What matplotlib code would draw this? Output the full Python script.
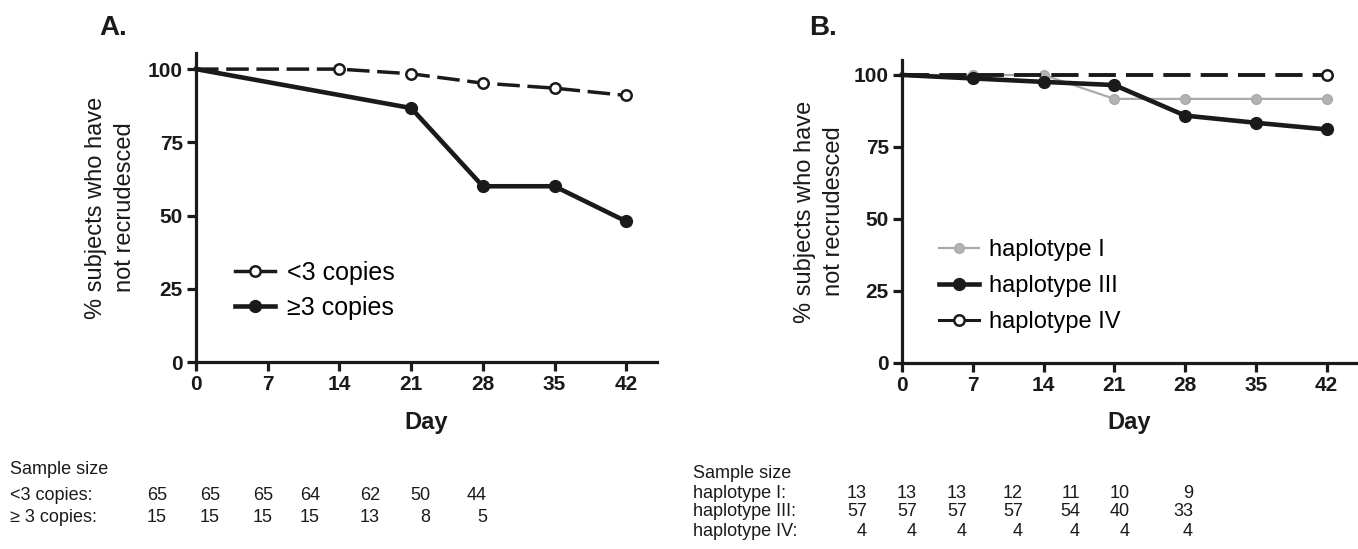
import matplotlib
matplotlib.use('Agg')
import matplotlib.pyplot as plt

# panel A: copy number
days = [0, 7, 14, 21, 28, 35, 42]
lt3_days = [0, 14, 21, 28, 35, 42]
lt3_vals = [100, 100, 98.4, 95.2, 93.5, 91.0]
ge3_days = [0, 21, 28, 35, 42]
ge3_vals = [100, 86.7, 60.0, 60.0, 48.0]
n_lt3 = [65, 65, 65, 64, 62, 50, 44]
n_ge3 = [15, 15, 15, 15, 13, 8, 5]

# panel B: haplotypes
hap1_days = [0, 7, 14, 21, 28, 35, 42]
hap1_vals = [100, 100, 100, 91.7, 91.7, 91.7, 91.7]
hap3_days = [0, 7, 14, 21, 28, 35, 42]
hap3_vals = [100, 98.8, 97.6, 96.5, 85.9, 83.4, 81.1]
hap4_days = [0, 42]
hap4_vals = [100, 100]
n_hap1 = [13, 13, 13, 12, 11, 10, 9]
n_hap3 = [57, 57, 57, 57, 54, 40, 33]
n_hap4 = [4, 4, 4, 4, 4, 4, 4]

plt.rcParams.update({
    'font.family': ['Liberation Sans', 'DejaVu Sans'],
    'font.size': 13,
    'axes.linewidth': 2.3,
    'xtick.major.width': 2.3,
    'ytick.major.width': 2.3,
    'xtick.major.size': 6.5,
    'ytick.major.size': 6.5,
})

W, H = 1358, 549
fig = plt.figure(figsize=(W / 100, H / 100), dpi=100)
TXT = '#1a1a1a'
fs = 13
skip0 = slice(1, None)


def px_axes(x0, x1, y_top, y_bot):
    return fig.add_axes([x0 / W, 1 - y_bot / H, (x1 - x0) / W, (y_bot - y_top) / H])


def style(ax, ytop, lx):
    ax.set_xlim(0, 45)
    ax.set_ylim(0, ytop)
    ax.spines['top'].set_visible(False)
    ax.spines['right'].set_visible(False)
    for s in ('left', 'bottom'):
        ax.spines[s].set_color(TXT)
    ax.set_xticks(days)
    ax.set_yticks([0, 25, 50, 75, 100])
    ax.tick_params(colors=TXT, labelsize=15, pad=3)
    for lab in ax.get_xticklabels() + ax.get_yticklabels():
        lab.set_fontweight('bold')
    ax.set_xlabel('Day', fontsize=17, fontweight='bold', color=TXT)
    ax.xaxis.set_label_coords(0.5, -0.16)
    ax.set_ylabel('% subjects who have\nnot recrudesced', fontsize=17, color=TXT,
                  linespacing=1.4)
    ax.yaxis.set_label_coords(lx, 0.5)


def solid_handles(leg):
    for ln in leg.get_lines():
        ln.set_linestyle('-')


def tab(x, y, s, ha='left'):
    fig.text(x / W, 1 - y / H, s, fontsize=fs, color=TXT, ha=ha, va='center')


# ---- panel A
axA = px_axes(196, 657, 53, 362)
axA.plot(lt3_days, lt3_vals, ls=(0, (6.5, 2.2)), lw=2.5, color=TXT, marker='o', ms=7.5,
         mfc='white', mec=TXT, mew=1.8, markevery=skip0, label='<3 copies',
         clip_on=False, zorder=3)
axA.plot(ge3_days, ge3_vals, lw=3.3, color=TXT, marker='o', ms=8.5,
         mfc=TXT, mec=TXT, markevery=skip0, label='\u22653 copies', clip_on=False, zorder=3)
style(axA, 105.5, -0.13)
legA = axA.legend(loc='upper left', bbox_to_anchor=(0.035, 0.40), frameon=False, fontsize=18,
                  handlelength=1.6, handletextpad=0.5, labelspacing=0.45)
solid_handles(legA)
fig.text(113 / W, 1 - 28 / H, 'A.', fontsize=20, fontweight='bold', color=TXT,
         ha='center', va='center')

# ---- panel B
axB = px_axes(902, 1357, 60, 363)
axB.plot(hap1_days, hap1_vals, lw=1.6, color='#aaaaaa', marker='o', ms=7,
         mfc='#b3b3b3', mec='#aaaaaa', markevery=skip0, label='haplotype I',
         clip_on=False, zorder=2)
axB.plot(hap3_days, hap3_vals, lw=3.3, color=TXT, marker='o', ms=8.5,
         mfc=TXT, mec=TXT, markevery=skip0, label='haplotype III', clip_on=False, zorder=3)
axB.plot(hap4_days, hap4_vals, ls=(0, (7, 2.6)), lw=2.8, color=TXT, marker='o', ms=7.5,
         mfc='white', mec=TXT, mew=1.8, markevery=skip0, label='haplotype IV',
         clip_on=False, zorder=4)
style(axB, 105.2, -0.125)
legB = axB.legend(loc='upper left', bbox_to_anchor=(0.035, 0.48), frameon=False, fontsize=17,
                  handlelength=1.7, handletextpad=0.4, labelspacing=0.6)
solid_handles(legB)
legB.get_lines()[2].set_linewidth(2.2)
fig.text(823 / W, 1 - 28 / H, 'B.', fontsize=20, fontweight='bold', color=TXT,
         ha='center', va='center')

# ---- sample size tables
colA = [167, 220, 273, 320, 380, 430, 487]
tab(10, 470, 'Sample size')
tab(10, 495, '<3 copies:')
tab(10, 517, '\u2265 3 copies:')
for x, a, b in zip(colA, n_lt3, n_ge3):
    tab(x, 495, str(a), 'right')
    tab(x, 517, str(b), 'right')

colB = [867, 917, 967, 1023, 1080, 1130, 1193]
tab(693, 473, 'Sample size')
tab(693, 493, 'haplotype I:')
tab(693, 512, 'haplotype III:')
tab(693, 531, 'haplotype IV:')
for x, a, b, c in zip(colB, n_hap1, n_hap3, n_hap4):
    tab(x, 493, str(a), 'right')
    tab(x, 512, str(b), 'right')
    tab(x, 531, str(c), 'right')

fig.savefig('out.png', dpi=100)
